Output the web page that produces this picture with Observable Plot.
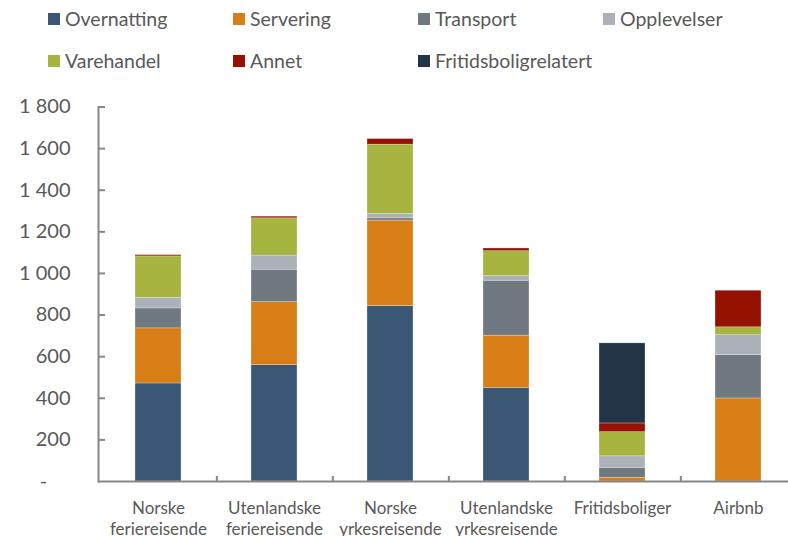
<!DOCTYPE html>
<html>
<head>
<meta charset="utf-8">
<script src="https://cdn.jsdelivr.net/npm/d3@7"></script>
<script src="https://cdn.jsdelivr.net/npm/@observablehq/plot@0.6"></script>
<style>
  html, body { margin: 0; padding: 0; background: #fff; }
  body { width: 788px; height: 536px; overflow: hidden; font-family: Lato, "Open Sans", sans-serif; color: #595959; }
  #legend { position: relative; height: 90px; }
  .item { position: absolute; display: flex; align-items: center; font-size: 19.5px; line-height: 1; white-space: nowrap; }
  .sw { width: 12px; height: 12px; margin-right: 5px; }
  #chart svg { display: block; }
</style>
</head>
<body>
<div id="legend"></div>
<div id="chart"></div>
<script>
// Expenditure per category of traveller, split by type of spending
const categories = [
  "Norske\nferiereisende",
  "Utenlandske\nferiereisende",
  "Norske\nyrkesreisende",
  "Utenlandske\nyrkesreisende",
  "Fritidsboliger",
  "Airbnb"
];
const seriesNames = ["Overnatting", "Servering", "Transport", "Opplevelser", "Varehandel", "Annet", "Fritidsboligrelatert"];
const overnatting  = [471, 559, 843, 450,   0,   0];
const servering    = [265, 303, 411, 251,  18, 399];
const transport    = [ 96, 156,  11, 264,  48, 208];
const opplevelser  = [ 51,  68,  21,  22,  55,  96];
const varehandel   = [199, 179, 333, 120, 116,  38];
const annet        = [  6,   8,  27,  13,  42, 176];
const fritidsbolig = [  0,   0,   0,   0, 385,   0];
const yTicks = [0, 200, 400, 600, 800, 1000, 1200, 1400, 1600, 1800];

const seriesColors = ["#3a5775", "#d77e16", "#717980", "#abb1b7", "#a8b440", "#961200", "#233447"];
const seriesValues = [overnatting, servering, transport, opplevelser, varehandel, annet, fritidsbolig];

// long table: one row per category and spending type, bottom-to-top order
const rows = [];
seriesNames.forEach((s, i) => {
  categories.forEach((c, j) => rows.push({category: c, series: s, value: seriesValues[i][j]}));
});

// legend (two rows, four columns)
const legend = document.getElementById("legend");
const colX = [48, 233, 418, 603];
const rowY = [19, 61];
seriesNames.forEach((s, i) => {
  const el = document.createElement("div");
  el.className = "item";
  el.style.left = colX[i % 4] + "px";
  el.style.top = (rowY[Math.floor(i / 4)] - 10) + "px";
  el.style.height = "20px";
  el.innerHTML = `<span class="sw" style="background:${seriesColors[i]}"></span><span>${s}</span>`;
  legend.appendChild(el);
});

const width = 788, height = 446;
const marginLeft = 98, marginTop = 16.5, marginBottom = 55, marginRight = 0;
const xRange = [98, 798];
const step = (xRange[1] - xRange[0]) / categories.length;
const frameW = width - marginLeft - marginRight;
const frameH = height - marginTop - marginBottom;
const axisColor = "#868686";

const fmt = d => d === 0 ? "-\u2007\u2007" : d3.format(",")(d).replace(/,/g, "\u00a0");

const chart = Plot.plot({
  width, height, marginLeft, marginTop, marginBottom, marginRight,
  style: {fontFamily: "Lato, 'Open Sans', sans-serif", color: "#595959", background: "#fff", overflow: "visible"},
  x: {domain: categories, range: xRange, paddingInner: 0.6, paddingOuter: 0.3},
  y: {domain: [0, 1800]},
  color: {domain: seriesNames, range: seriesColors},
  marks: [
    Plot.barY(rows, Plot.stackY({
      x: "category", y: "value", fill: "series",
      stroke: "white", strokeWidth: 0.6, strokeOpacity: 0.45
    })),
    // axis lines
    Plot.frame({anchor: "left", stroke: axisColor, strokeWidth: 2}),
    Plot.ruleY([0], {stroke: axisColor, strokeWidth: 2}),
    // inward y ticks
    Plot.tickY(yTicks.filter(d => d > 0), {y: d => d, stroke: axisColor, strokeWidth: 2, insetRight: frameW - 7}),
    // category separators on the x baseline
    Plot.ruleX(categories.slice(0, -1), {x: d => d, dx: step / 2, stroke: axisColor, strokeWidth: 2, insetTop: frameH - 5}),
    Plot.axisY({ticks: yTicks, tickSize: 0, tickPadding: 28, tickFormat: fmt, fontSize: 20, fill: "#595959", label: null}),
    Plot.axisX({tickSize: 0, tickPadding: 18, fontSize: 17, lineHeight: 1.22, fill: "#595959", label: null})
  ]
});
document.getElementById("chart").appendChild(chart);
</script>
</body>
</html>
